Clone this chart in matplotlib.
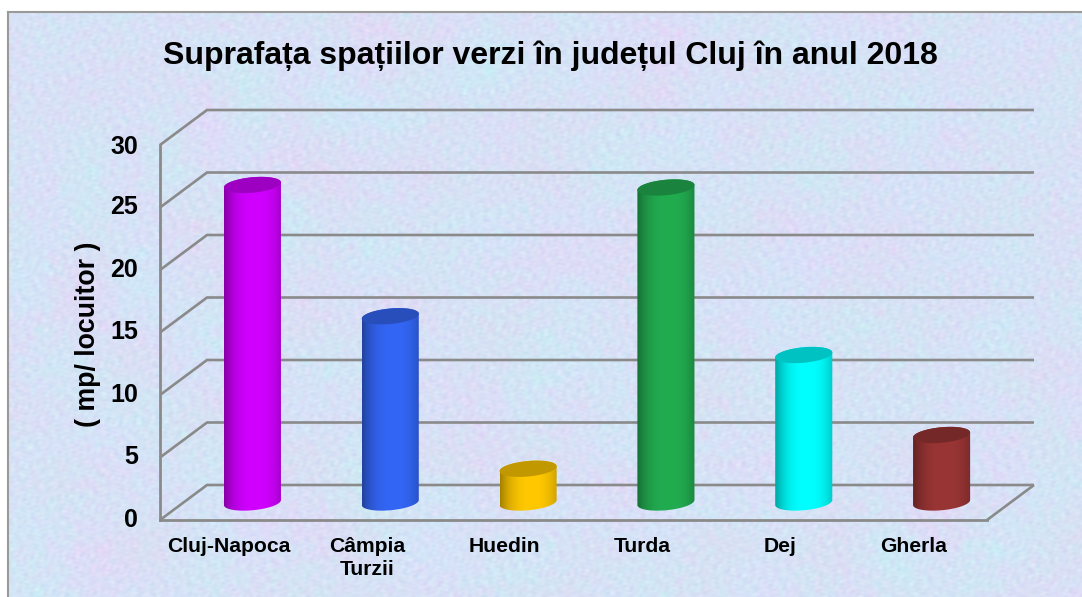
import numpy as np
import matplotlib
matplotlib.use("Agg")
import matplotlib.pyplot as plt
from matplotlib.patches import Polygon
from matplotlib.transforms import ScaledTranslation

plt.rcParams['font.family'] = ['Liberation Sans', 'DejaVu Sans']
plt.rcParams['font.weight'] = 'bold'

cities = ['Cluj-Napoca', 'Câmpia\nTurzii', 'Huedin', 'Turda', 'Dej', 'Gherla']
green_area = [25.4, 14.9, 2.7, 25.2, 11.8, 5.4]
bar_colors = ['#d000ff', '#3366f5', '#ffc800', '#22ac50', '#00ffff', '#9a3535']
y_ticks = [0, 5, 10, 15, 20, 25, 30]

W, H = 1082, 597
DEPTH_X = 47 / 137.8   # 3d wall offset, in categories
DEPTH_Y = 35 / 12.5    # 3d wall offset, in value units
GREY = '#8a8a8a'


def texture(w, h):
    # marbled paper look, built from many overlapping waves
    yy, xx = np.mgrid[0:h, 0:w]

    def field(start, scale, n=40):
        out = np.zeros((h, w))
        for k in range(n):
            ang = start + k * 2.39996
            wave = scale * (1 + (k * 0.618 % 1) * 2.5)
            out += np.sin((xx * np.cos(ang) + yy * np.sin(ang)) * 2 * np.pi / wave + k * 1.7)
        return out / np.sqrt(n / 2)

    pink = 0.6 * field(0.3, 70) + 0.4 * field(1.1, 10)
    cyan = 0.6 * field(2.1, 60) + 0.4 * field(0.7, 9)
    fine = field(1.9, 4)
    img = np.empty((h, w, 3))
    img[..., 0] = 215 + 4.5 * pink - 2.5 * cyan + 2.5 * fine
    img[..., 1] = 226 - 3.5 * pink + 2 * cyan + 2.5 * fine
    img[..., 2] = 246 + 1 * pink + 1 * cyan + 1 * fine
    return np.clip(img, 0, 255) / 255


def shade(color, f):
    c = np.array(matplotlib.colors.to_rgb(color))
    return tuple(c * f)


def cylinder(ax, x, value, color, half_w=0.207, half_h=0.62, tilt=0.2):
    cx = x + DEPTH_X / 2
    y0 = DEPTH_Y / 2
    t_low = np.linspace(np.pi, 2 * np.pi, 50)
    t_up = np.linspace(0, np.pi, 50)
    t_all = np.linspace(0, 2 * np.pi, 100)

    def ell(t, cy):
        return np.column_stack([cx + half_w * np.cos(t),
                                cy + half_h * np.sin(t) + tilt * np.cos(t)])

    outline = np.vstack([ell(t_low, y0), ell(t_up, y0 + value)])
    body = Polygon(outline, closed=True, facecolor='none', edgecolor='none', zorder=3)
    ax.add_patch(body)

    # side shading, brightest a little right of the middle
    u = np.linspace(0, 1, 120)
    f = 0.64 + 0.36 * np.clip(1 - (np.abs(u - 0.55) / 0.55) ** 2.6, 0, 1)
    grad = np.array([[shade(color, v) for v in f]])
    im = ax.imshow(grad, extent=(cx - half_w, cx + half_w, y0 - half_h - tilt, y0 + value + half_h + tilt),
                   aspect='auto', zorder=3, interpolation='bilinear')
    im.set_clip_path(body)

    ax.add_patch(Polygon(ell(t_all, y0 + value), closed=True, facecolor=shade(color, 0.76),
                         edgecolor='none', zorder=4, clip_on=False))


fig = plt.figure(figsize=(W / 100, H / 100), dpi=100)

# background panel
bg = fig.add_axes([8 / W, 0, 1 - 8 / W, (H - 12) / H], zorder=0)
bg.imshow(texture(W - 8, H - 12), aspect='auto', interpolation='bilinear')
bg.set_xticks([])
bg.set_yticks([])
for side in ['right', 'bottom']:
    bg.spines[side].set_visible(False)
for side in ['left', 'top']:
    bg.spines[side].set_color('#9a9a9a')
    bg.spines[side].set_linewidth(1.5)

ax = fig.add_axes([160 / W, (H - 520) / H, (987 - 160) / W, (520 - 145) / H], zorder=1)
ax.patch.set_alpha(0)
xs = np.arange(len(cities))
x_lo, x_hi = -0.5, len(cities) - 0.5

# back wall grid and the side wall diagonals
for v in y_ticks:
    ax.plot([x_lo, x_lo + DEPTH_X, x_hi + DEPTH_X], [v, v + DEPTH_Y, v + DEPTH_Y],
            color=GREY, lw=1.9, clip_on=False, zorder=1, solid_joinstyle='miter', solid_capstyle='butt')
ax.plot([x_hi, x_hi + DEPTH_X], [0, DEPTH_Y], color=GREY, lw=1.9, clip_on=False, zorder=1, solid_capstyle='butt')

for x, v, c in zip(xs, green_area, bar_colors):
    cylinder(ax, x, v, c)

ax.set_xlim(x_lo, x_hi)
ax.set_ylim(0, 30)
ax.set_xticks(xs)
ax.set_xticklabels(cities, fontsize=15.2, linespacing=1.3)
ax.set_yticks(y_ticks)
ax.tick_params(axis='y', length=0, pad=16, labelsize=18)
ax.tick_params(axis='x', length=0, pad=12)
for side in ['top', 'right']:
    ax.spines[side].set_visible(False)
for side in ['left', 'bottom']:
    ax.spines[side].set_color(GREY)
    ax.spines[side].set_linewidth(2)

# tick labels sit a bit off their ticks in the original
up = ScaledTranslation(0, 2 / 72, fig.dpi_scale_trans)
for lab in ax.get_yticklabels()[:-1]:
    lab.set_transform(lab.get_transform() + up)
left = ScaledTranslation(-3.5 / 72, 0, fig.dpi_scale_trans)
gherla = ax.get_xticklabels()[-1]
gherla.set_transform(gherla.get_transform() + left)

fig.text(88 / W, 1 - 334 / H, '( mp/ locuitor )', rotation=90, ha='center', va='center', fontsize=19.3)
fig.text(550 / W, 1 - 56 / H, 'Suprafața spațiilor verzi în județul Cluj în anul 2018',
         ha='center', va='center', fontsize=23)

fig.savefig('out.png', dpi=100)
